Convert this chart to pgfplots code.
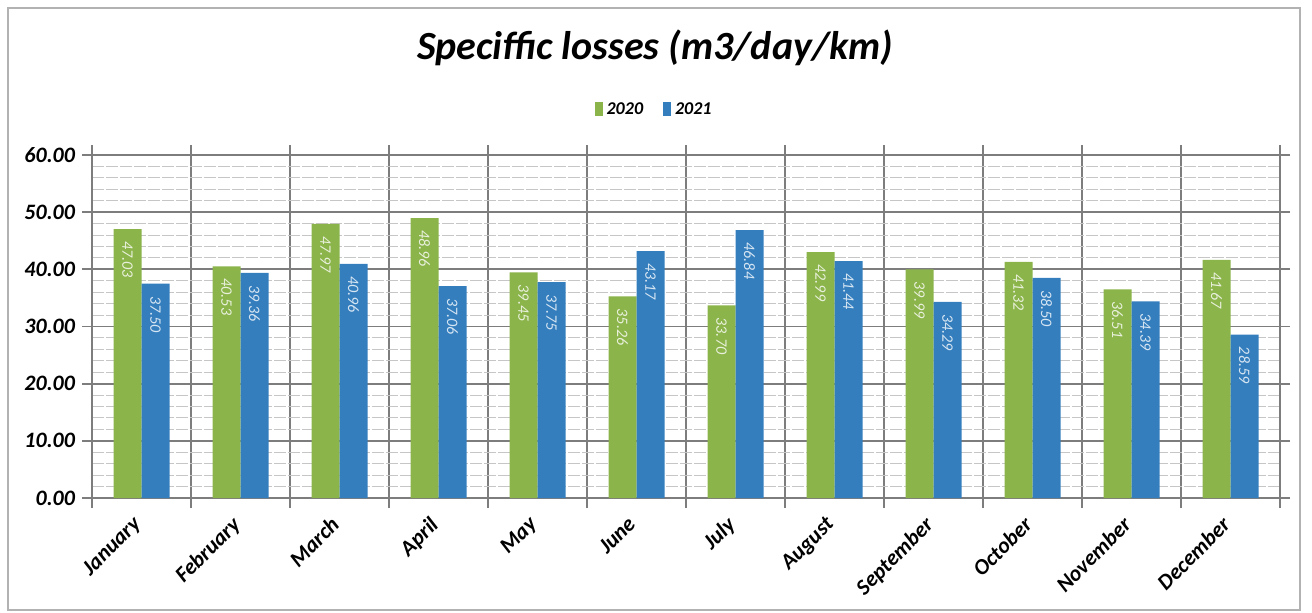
\documentclass[border=0pt]{standalone}
\usepackage{pgfplots}
\pgfplotsset{compat=1.18}
\usepackage{fontspec}
\setmainfont{Carlito}
\definecolor{cgreen}{RGB}{139,180,74}
\definecolor{cblue}{RGB}{52,126,190}
\definecolor{cgrid}{RGB}{125,125,125}
\begin{document}
\begin{tikzpicture}
\path[use as bounding box] (0,0) rectangle (656pt,306pt);
\draw[gray!60, line width=0.9pt] (4pt,1pt) rectangle (650pt,302pt);
\begin{axis}[
  at={(46pt,57pt)}, anchor=south west,
  scale only axis, width=594pt, height=171.5pt,
  ybar=0pt, bar width=14pt,
  xmin=-0.5, xmax=11.5, ymin=0, ymax=60,
  xtick={0,...,11},
  xticklabels={January,February,March,April,May,June,July,August,September,October,November,December},
  minor xtick={-0.5,0.5,...,11.5},
  xminorgrids=true,
  minor x grid style={cgrid, line width=0.9pt},
  major x tick style={draw=none},
  minor x tick style={cgrid, line width=0.9pt},
  ytick={0,10,...,60},
  minor y tick num=4,
  ymajorgrids=true, yminorgrids=true,
  major y grid style={cgrid, line width=0.9pt},
  minor y grid style={gray!45, line width=0.5pt, dash pattern=on 6pt off 1pt},
  minor y tick style={draw=none},
  major y tick style={cgrid, line width=0.9pt},
  tick align=outside,
  major tick length=5pt, minor tick length=5pt,
  axis line style={cgrid, line width=0.9pt},
  /pgf/number format/assume math mode=true,
  yticklabel style={font=\fontsize{11}{12}\selectfont\bfseries\itshape, /pgf/number format/fixed, /pgf/number format/zerofill, /pgf/number format/precision=2},
  xticklabel style={font=\fontsize{11}{12}\selectfont\bfseries\itshape, xshift=-5pt, yshift=-2pt, rotate=45, anchor=north east, inner sep=1pt},
  title={Speciffic losses (m3/day/km)},
  title style={at={(0.474,1.277)}, anchor=center, font=\fontsize{20}{24}\selectfont\bfseries\itshape},
  legend style={at={(0.474,1.131)}, anchor=center, draw=none, fill=none, legend columns=2,
    font=\fontsize{9}{10}\selectfont\bfseries\itshape,
    /tikz/every even column/.append style={column sep=8pt}},
  area legend,
  legend image code/.code={\fill[#1] (0pt,-3pt) rectangle (4pt,4pt);},
  nodes near coords,
  every node near coord/.append style={/pgf/number format/fixed, /pgf/number format/zerofill, /pgf/number format/precision=2,
    rotate=-90, anchor=west, inner xsep=6pt, inner ysep=1pt,
    font=\fontsize{8}{9}\selectfont\itshape},
]
\addplot[fill=cgreen, draw=none, every node near coord/.append style={text=white!80!cgreen}] coordinates {
 (0,47.03) (1,40.53) (2,47.97) (3,48.96) (4,39.45) (5,35.26) (6,33.70) (7,42.99) (8,39.99) (9,41.32) (10,36.51) (11,41.67)};
\addplot[fill=cblue, draw=none, every node near coord/.append style={text=white!80!cblue}] coordinates {
 (0,37.50) (1,39.36) (2,40.96) (3,37.06) (4,37.75) (5,43.17) (6,46.84) (7,41.44) (8,34.29) (9,38.50) (10,34.39) (11,28.59)};
\legend{2020,2021}
\end{axis}
\end{tikzpicture}
\end{document}
